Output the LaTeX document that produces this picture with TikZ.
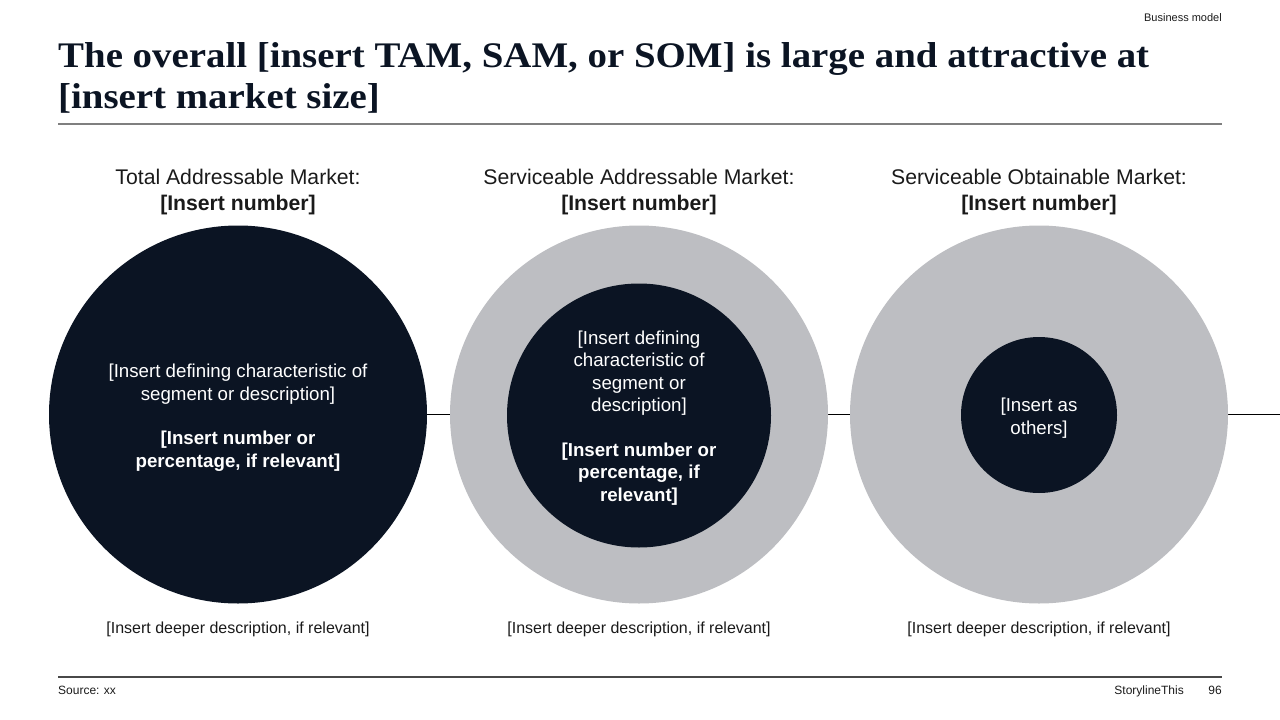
\documentclass[tikz,border=0pt]{standalone}
\usepackage{fontspec}
\setmainfont{Liberation Sans}
\newfontfamily\titlefont[FakeStretch=1.08]{Liberation Serif}
\definecolor{navy}{HTML}{0B1423}
\definecolor{ringgrey}{HTML}{BDBEC2}
\definecolor{rulegrey}{HTML}{7F7F7F}
\definecolor{textdark}{HTML}{1A1A1A}
\begin{document}
\begin{tikzpicture}[x=1pt,y=-1pt,
  outer/.style={circle,inner sep=0pt,minimum size=378pt,fill=#1},
  innerc/.style={circle,inner sep=0pt,minimum size=#1,fill=navy},
  head/.style={align=center,text=textdark,font=\fontsize{21.2}{26}\selectfont,inner sep=0pt},
  intext/.style={align=center,text=white,font=\fontsize{18.7}{22.5}\selectfont,inner sep=0pt},
  inbold/.style={align=center,text=white,font=\fontsize{18.7}{22.5}\selectfont\bfseries,inner sep=0pt},
  foot/.style={text=textdark,font=\fontsize{16}{19}\selectfont,inner sep=0pt},
  small/.style={text=textdark,font=\fontsize{11}{13}\selectfont,inner sep=0pt},
  footsmall/.style={text=textdark,font=\fontsize{12}{14}\selectfont,inner sep=0pt},
  titletxt/.style={text=navy,font=\titlefont\bfseries\fontsize{36}{40}\selectfont,inner sep=0pt,anchor=base west}
]
\useasboundingbox (0,0) rectangle (1280,720);

% header
\node[small,anchor=base east] (bm) at (1222,21) {Business model};
\node[titletxt] (t1) at (58,67) {The overall [insert TAM, SAM, or SOM] is large and attractive at};
\node[titletxt] (t2) at (58,108) {[insert market size]};
\draw[rulegrey,line width=1.2pt] (58,124) -- (1222,124);

% connector line behind circles
\coordinate (lineend) at (1280,414.5);
\coordinate (c1) at (238,414.5);
\draw[black,line width=1.3pt] (c1) -- (lineend);

% circles
\node[outer=navy] (tam) at (238,414.5) {};
\node[outer=ringgrey] (sam) at (639,414.5) {};
\node[innerc=264pt] (samin) at (639,415.5) {};
\node[outer=ringgrey] (som) at (1039,414.5) {};
\node[innerc=156pt] (somin) at (1039,415) {};

% column headings
\node[head] (h1) at (238,192) {Total Addressable Market:\\\textbf{[Insert number]}};
\node[head] (h2) at (639,192) {Serviceable Addressable Market:\\\textbf{[Insert number]}};
\node[head] (h3) at (1039,192) {Serviceable Obtainable Market:\\\textbf{[Insert number]}};

% circle texts
\node[intext] (d1) at (238,384) {[Insert defining characteristic of\\segment or description]};
\node[inbold] (n1) at (238,451) {[Insert number or\\percentage, if relevant]};
\node[intext] (d2) at (639,373) {[Insert defining\\characteristic of\\segment or\\description]};
\node[inbold] (n2) at (639,474) {[Insert number or\\percentage, if\\relevant]};
\node[intext] (d3) at (1039,418) {[Insert as\\others]};

% bottom descriptions
\node[foot] (b1) at (238,629) {[Insert deeper description, if relevant]};
\node[foot] (b2) at (639,629) {[Insert deeper description, if relevant]};
\node[foot] (b3) at (1039,629) {[Insert deeper description, if relevant]};

% footer
\draw[textdark!80,line width=1.2pt] (58,677) -- (1222,677);
\node[footsmall,anchor=base west] (src) at (58,694) {Source: xx};
\node[footsmall,anchor=base east] (pg) at (1222,694) {96};
\node[footsmall,anchor=base east] (brand) at (1184,694) {StorylineThis};
\end{tikzpicture}
\end{document}
